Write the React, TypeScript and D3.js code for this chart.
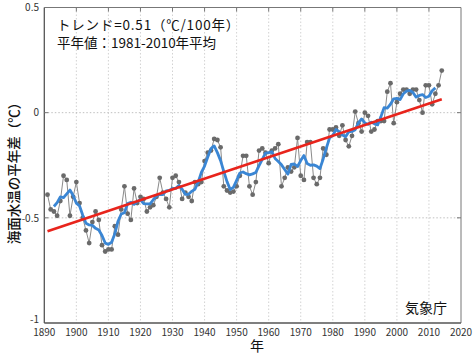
import React from 'react';
import * as d3 from 'd3';

// Annual global SST anomaly (°C, vs 1981-2010), 1891-2014
const startYear = 1891;
const anomaly: number[] = [
  -0.39, -0.46, -0.47, -0.49, -0.42, -0.30, -0.32, -0.49, -0.40, -0.33, // 1891-1900
  -0.43, -0.50, -0.56, -0.62, -0.52, -0.47, -0.51, -0.63, -0.66, -0.65, // 1901-1910
  -0.65, -0.54, -0.58, -0.46, -0.35, -0.48, -0.51, -0.36, -0.43, -0.40, // 1911-1920
  -0.41, -0.47, -0.45, -0.44, -0.40, -0.31, -0.38, -0.41, -0.45, -0.31, // 1921-1930
  -0.30, -0.33, -0.41, -0.38, -0.40, -0.42, -0.33, -0.34, -0.33, -0.23, // 1931-1940
  -0.19, -0.18, -0.125, -0.13, -0.165, -0.35, -0.37, -0.38, -0.375, -0.35, // 1941-1950
  -0.30, -0.205, -0.205, -0.35, -0.39, -0.33, -0.18, -0.17, -0.19, -0.24, // 1951-1960
  -0.18, -0.17, -0.15, -0.35, -0.31, -0.26, -0.28, -0.26, -0.12, -0.30, // 1961-1970
  -0.32, -0.14, -0.14, -0.31, -0.34, -0.31, -0.17, -0.20, -0.08, -0.08, // 1971-1980
  -0.07, -0.11, -0.06, -0.13, -0.16, -0.11, 0.005, -0.05, -0.09, 0.0, // 1981-1990
  -0.015, -0.09, -0.08, -0.04, -0.04, -0.04, 0.10, 0.14, -0.05, 0.05, // 1991-2000
  0.09, 0.11, 0.11, 0.09, 0.11, 0.11, 0.06, 0.0, 0.13, 0.13, // 2001-2010
  0.04, 0.09, 0.13, 0.20, // 2011-2014
];
const years: number[] = anomaly.map((_, i) => startYear + i);
const xTicks: number[] = [1890, 1900, 1910, 1920, 1930, 1940, 1950, 1960, 1970, 1980, 1990, 2000, 2010, 2020];
const yTicks: number[] = [0.5, 0, -0.5, -1];
const yTickLabels: string[] = ['0.5', '0', '-0.5', '-1'];
const gridY: number[] = [0, -0.5];
const trendPerCentury = 0.51;
const runningWindow = 5;

const FONT = '"Noto Sans CJK JP", "Noto Sans", sans-serif';

export default function App() {
  const W = 474, H = 355;
  const left = 44.3, right = 461, top = 7.5, bottom = 323;
  const x = d3.scaleLinear().domain([1890, 2020]).range([left, right]);
  const y = d3.scaleLinear().domain([-1, 0.5]).range([bottom, top]);

  const data = years.map((yr, i) => ({ yr, v: anomaly[i] }));
  const half = Math.floor(runningWindow / 2);
  const running = data.slice(half, data.length - half).map((d, j) => ({
    yr: d.yr,
    v: d3.mean(anomaly.slice(j, j + runningWindow)) as number,
  }));
  const my = d3.mean(anomaly) as number;
  const mx = d3.mean(years) as number;
  const slope = trendPerCentury / 100;
  const trend = [years[0], years[years.length - 1]].map(yr => ({ yr, v: my + slope * (yr - mx) }));

  const line = d3.line<{ yr: number; v: number }>().x(d => x(d.yr)).y(d => y(d.v));

  return (
    <svg width={W} height={H} style={{ position: 'absolute', left: 0, top: 0, background: '#fff' }} fontFamily={FONT}>
      {/* grid */}
      {xTicks.slice(1, -1).map(t => (
        <line key={'gx' + t} x1={x(t)} x2={x(t)} y1={top} y2={bottom} stroke="#c8c8c8" strokeWidth={0.8} strokeDasharray="1.5,2" />
      ))}
      {gridY.map(t => (
        <line key={'gy' + t} x1={left} x2={right} y1={y(t)} y2={y(t)} stroke="#b0b0b0" strokeWidth={0.8} strokeDasharray="1.5,2" />
      ))}
      {/* frame */}
      <line x1={left} x2={right} y1={top} y2={top} stroke="#777" strokeWidth={1} />
      <line x1={right} x2={right} y1={top} y2={bottom} stroke="#777" strokeWidth={1} />
      <line x1={left} x2={left} y1={top} y2={bottom} stroke="#555" strokeWidth={1.3} />
      <line x1={left} x2={right} y1={bottom} y2={bottom} stroke="#555" strokeWidth={1.3} />
      {xTicks.slice(1, -1).map(t => (
        <line key={'tt' + t} x1={x(t)} x2={x(t)} y1={top} y2={top + 4} stroke="#777" strokeWidth={1} />
      ))}
      {gridY.map(t => (
        <g key={'ty' + t}>
          <line x1={left} x2={left + 4} y1={y(t)} y2={y(t)} stroke="#777" />
          <line x1={right - 4} x2={right} y1={y(t)} y2={y(t)} stroke="#777" />
        </g>
      ))}
      {/* tick labels */}
      {yTicks.map((t, i) => (
        <text key={'yl' + t} x={39} y={y(t) - (t === -1 ? 4 : 0)} dy="0.1em" textAnchor="end" fontSize={10} fill="#333"
          dominantBaseline="middle">{yTickLabels[i]}</text>
      ))}
      {xTicks.map(t => (
        <text key={'xl' + t} x={x(t)} y={336} textAnchor="middle" fontSize={10} fill="#333">{t}</text>
      ))}
      {/* axis titles */}
      <text x={257} y={351} textAnchor="middle" fontSize={14} fill="#111">年</text>
      <text transform={`translate(19,170) rotate(-90)`} textAnchor="middle" fontSize={13.5} fontWeight={500} fill="#111">海面水温の平年差（℃）</text>
      {/* annotations */}
      <text x={57} y={30} fontSize={13.5} letterSpacing={0.8} fill="#111">トレンド=0.51（℃/100年）</text>
      <text x={57} y={48} fontSize={13.5} fill="#111">平年値：1981-2010年平均</text>
      <text x={447} y={313} textAnchor="end" fontSize={14} fill="#111">気象庁</text>
      {/* annual series */}
      <path d={line(data) || ''} fill="none" stroke="#8a8a8a" strokeWidth={1} />
      {data.map(d => (
        <circle key={'p' + d.yr} cx={x(d.yr)} cy={y(d.v)} r={2.4} fill="#6a6a6a" />
      ))}
      {/* 5-year running mean */}
      <path d={line(running) || ''} fill="none" stroke="#3a86d4" strokeWidth={2.8} strokeLinejoin="round" />
      {/* trend */}
      <path d={line(trend) || ''} fill="none" stroke="#e8241c" strokeWidth={2.6} />
    </svg>
  );
}
